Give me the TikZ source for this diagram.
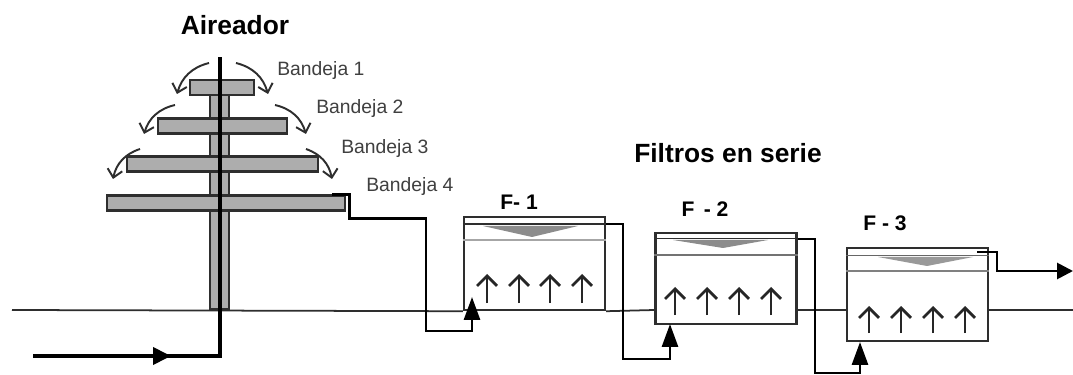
\documentclass[tikz,border=0pt]{standalone}
\usepackage{fontspec}
\setmainfont{Liberation Sans}
\usetikzlibrary{arrows.meta}
\definecolor{traygray}{gray}{0.68}
\definecolor{inkgray}{gray}{0.18}
\begin{document}
\begin{tikzpicture}[x=0.02cm, y=-0.02cm, every node/.style={font=\small}]
\tikzset{tray/.style={draw=inkgray,line width=1.3pt,fill=traygray,inner sep=0pt,minimum height=0.3cm},
  filterbox/.style={draw=inkgray,line width=1.4pt,inner sep=0pt,minimum width=2.82cm},
  pipe/.style={draw=black,line width=1.6pt,line join=miter},
  feed/.style={pipe,-{Triangle[length=0.46cm,width=0.32cm]}},
  spill/.style={draw=inkgray,line width=1.1pt,-{Straight Barb[length=0.16cm,width=0.3cm]}},
  upflow/.style={draw=black!85,line width=1.6pt,-{Straight Barb[length=0.2cm,width=0.4cm]}},
  traytxt/.style={text=black!75,font=\fontsize{11}{13}\selectfont,inner sep=0pt},
  filtertxt/.style={font=\fontsize{12}{14}\selectfont\bfseries,inner sep=0pt}}
\useasboundingbox (0,0) rectangle (1073,375);
\fill[white] (0,0) rectangle (1073,375);
% column and trays
\node[draw=inkgray,line width=1.2pt,fill=traygray,inner sep=0pt,minimum width=0.38cm,minimum height=4.28cm] (column) at (219.5,202) {};
\node[tray,minimum width=1.28cm] (tray1) at (222,87.5) {};
\node[tray,minimum width=2.58cm] (tray2) at (222.5,126) {};
\node[tray,minimum width=3.82cm] (tray3) at (222.5,164) {};
\node[tray,minimum width=4.76cm] (tray4) at (226,203) {};
\node[traytxt,anchor=west] (lab1) at (277,71) {Bandeja 1};
\node[traytxt,anchor=west] (lab2) at (316,109) {Bandeja 2};
\node[traytxt,anchor=west] (lab3) at (341,149) {Bandeja 3};
\node[traytxt,anchor=west] (lab4) at (366,187) {Bandeja 4};
\node[font=\fontsize{15}{18}\selectfont\bfseries] (aireador) at (235,25) {Aireador};
\node[font=\fontsize{15}{18}\selectfont\bfseries] (filtros) at (728,153) {Filtros en serie};
% falling water
\draw[spill] (209,63) to[bend right=30] (177,94);
\draw[spill] (236,63) to[bend left=30] (268,94);
\draw[spill] (175,105) to[bend right=30] (144,134);
\draw[spill] (275,105) to[bend left=30] (306,134);
\draw[spill] (140,149) to[bend right=30] (113,179);
\draw[spill] (306,149) to[bend left=30] (332,179);
% filters
\node[filterbox,minimum height=1.86cm] (f1) at (534.5,263.5) {};
\node[filterbox,minimum height=1.82cm] (f2) at (726,278.5) {};
\node[filterbox,minimum height=1.86cm] (f3) at (917.5,294.5) {};
\node[filtertxt] (f1lab) at (519,202) {F- 1};
\node[filtertxt] (f2lab) at (705,209) {F \,- 2};
\node[filtertxt] (f3lab) at (885,223) {F - 3};
\draw[inkgray,line width=1.2pt] ([yshift=-0.16cm]f1.north west) -- ([yshift=-0.16cm]f1.north east);
\draw[black!35,line width=1.2pt] ([yshift=-0.48cm]f1.north west) -- ([yshift=-0.48cm]f1.north east);
\draw[inkgray,line width=0.8pt] ([yshift=-0.14cm]f2.north west) -- ([yshift=-0.14cm]f2.north east);
\draw[black!55,line width=1.1pt] ([yshift=-0.46cm]f2.north west) -- ([yshift=-0.46cm]f2.north east);
\draw[black!60,line width=0.8pt] ([yshift=-0.18cm]f3.north west) -- ([yshift=-0.18cm]f3.north east);
\draw[black!50,line width=1.1pt] ([yshift=-0.48cm]f3.north west) -- ([yshift=-0.48cm]f3.north east);
\fill[black!45] (483,226) -- (578,226) -- (532,237) -- cycle;
\fill[black!45] (673,240) -- (768,240) -- (723,248) -- cycle;
\fill[black!40] (878,257) -- (973,257) -- (927,266) -- cycle;
\draw[upflow] (487,303) -- (487,274);
\draw[upflow] (519,303) -- (519,274);
\draw[upflow] (550,303) -- (550,274);
\draw[upflow] (582,303) -- (582,274);
\draw[upflow] (675,315) -- (675,287);
\draw[upflow] (707,315) -- (707,287);
\draw[upflow] (739,315) -- (739,287);
\draw[upflow] (771,315) -- (771,287);
\draw[upflow] (869,333) -- (869,306);
\draw[upflow] (901,333) -- (901,306);
\draw[upflow] (933,333) -- (933,306);
\draw[upflow] (965,333) -- (965,306);
% ground line
\coordinate (gleft) at (12,310);
\coordinate (gright) at (1073,310);
\draw[inkgray,line width=1pt] (gleft) -- (f1.south west);
\draw[inkgray,line width=1pt] (f1.south east) -- (f2.west |- gleft);
\draw[inkgray,line width=1pt] (f2.east |- gleft) -- (f3.west |- gleft);
\draw[inkgray,line width=1pt] (f3.east |- gleft) -- (gright);
% main pipe
\coordinate (inlet) at (33,356);
\coordinate (elbow) at (220,356);
\coordinate (pipetop) at (220,57);
\coordinate (inarrow) at (171,356);
\draw[pipe,line width=2.2pt] (inlet) -- (elbow) -- (pipetop);
\draw[pipe,line width=2.2pt,-{Triangle[length=0.36cm,width=0.34cm]}] (inlet) -- (inarrow);
% links between the units
\coordinate (f1in) at (472,297);
\coordinate (f2in) at (670,324);
\coordinate (f3in) at (860,342);
\coordinate (out) at (1073,271);
\draw[feed] ([xshift=-0.28cm]tray4.north east) -| ++(17,24) -| (426,331) -| (f1in);
\draw[feed] (f1.east |- 0,224) -| (623,359) -| (f2in);
\draw[feed] (f2.east |- 0,239) -| (815,373) -| (f3in);
\draw[pipe,-{Triangle[length=0.32cm,width=0.32cm]}] (977,252) -| (997,271) -- (out);
\end{tikzpicture}
\end{document}
